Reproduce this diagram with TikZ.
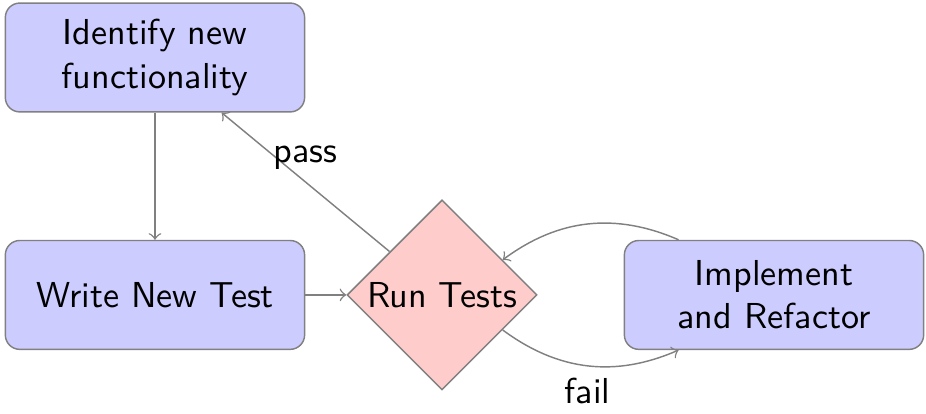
\documentclass[tikz,border=0pt]{standalone}
\usetikzlibrary{shapes.geometric}
\begin{document}
\begin{tikzpicture}[
    font=\sffamily,
    block/.style={rectangle, draw=gray, fill=blue!20, text width=2.68cm, align=center, minimum height=1.06cm, rounded corners},
    decision/.style={diamond, draw=gray, fill=red!20, aspect=1, inner sep=0pt, minimum size=1.85cm, align=center},
    line/.style={->, draw=gray}
]
    \useasboundingbox (0,0) rectangle (9.017,-4.031);
    \node[block] (identify) at (1.509,-0.560) {Identify new\\functionality};
    \node[block] (write) at (1.509,-2.872) {Write New Test};
    \node[decision] (run) at (4.304,-2.872) {Run Tests};
    \node[block] (implement) at (7.537,-2.872) {Implement\\and Refactor};

    \draw[line] (identify) -- (write);
    \draw[line] (write) -- (run);
    \draw[line] (run) -- node[above] {pass} (identify);
    \draw[line] (implement) to[bend right] (run);
    \draw[line] (run) to[bend right] node[below] {fail} (implement);
\end{tikzpicture}
\end{document}
